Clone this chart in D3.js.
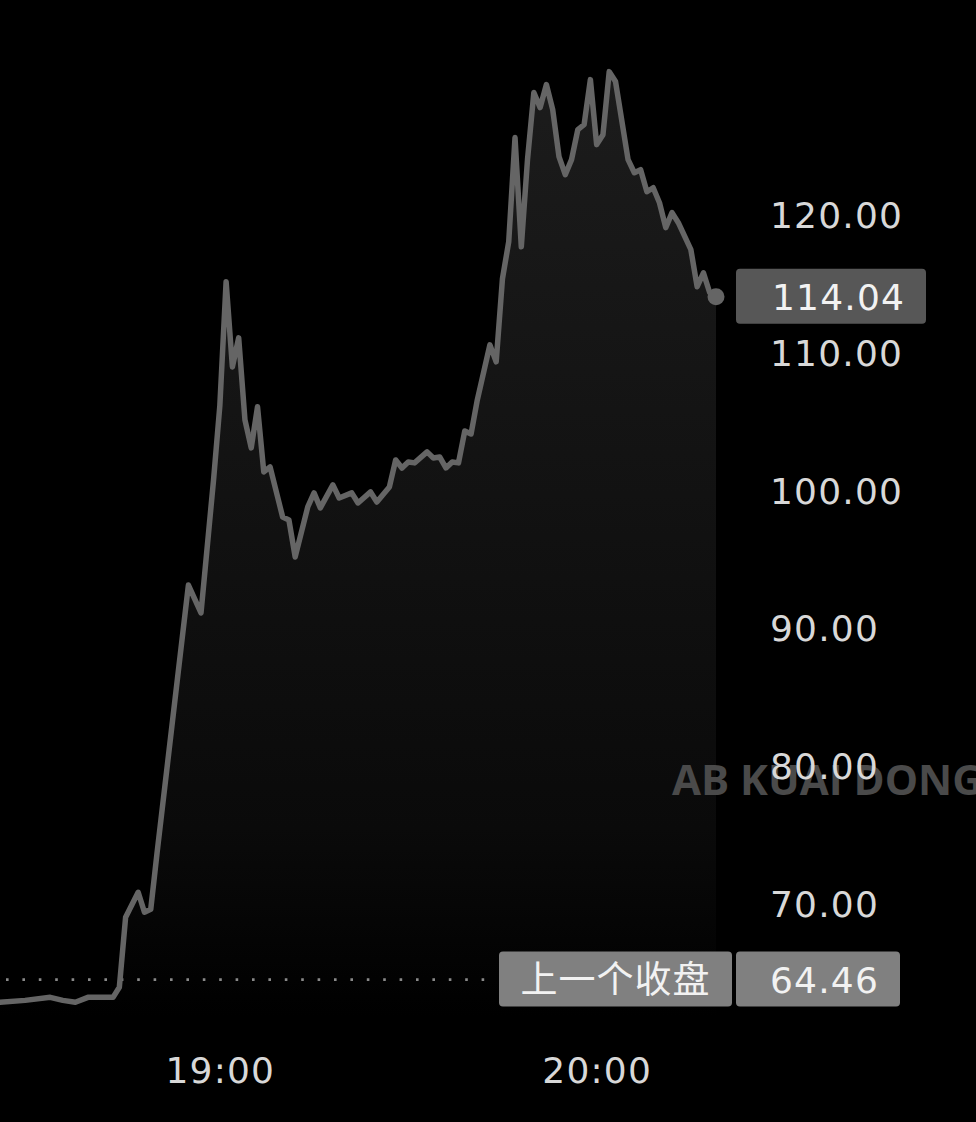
<!DOCTYPE html>
<html>
<head>
<meta charset="utf-8">
<script src="https://cdn.jsdelivr.net/npm/d3@7"></script>
<style>
  html, body { margin: 0; padding: 0; background: #000; }
  svg { display: block; }
  .axis-g text { font-family: "DejaVu Sans", sans-serif; font-size: 36px; fill: #d8d8d8; letter-spacing: 1.2px; }
  .tag-text { font-family: "DejaVu Sans", sans-serif; font-size: 36px; fill: #f2f2f2; letter-spacing: 1.2px; }
  .tag-cjk { font-family: "Noto Sans CJK SC", sans-serif; font-size: 37px; fill: #f2f2f2; letter-spacing: 1px; }
  .watermark { font-family: "Open Sans", sans-serif; font-weight: 700; font-size: 42px; fill: #4a4a4a; }
</style>
</head>
<body>
<div id="chart"></div>
<script>
// minute prices
const times = [
  "18:25", "18:29", "18:33", "18:35", "18:37", "18:39", "18:43", "18:44",
  "18:45", "18:47", "18:48", "18:49", "18:50", "18:55", "18:57", "18:59",
  "19:00", "19:01", "19:02", "19:03", "19:04", "19:05", "19:06", "19:07",
  "19:08", "19:10", "19:11", "19:12", "19:14", "19:15", "19:16", "19:18",
  "19:19", "19:21", "19:22", "19:24", "19:25", "19:27", "19:28", "19:29",
  "19:30", "19:31", "19:33", "19:34", "19:35", "19:36", "19:37", "19:38",
  "19:39", "19:40", "19:41", "19:43", "19:44", "19:45", "19:46", "19:47",
  "19:48", "19:49", "19:50", "19:51", "19:52", "19:53", "19:54", "19:55",
  "19:56", "19:57", "19:58", "19:59", "20:00", "20:01", "20:02", "20:03",
  "20:05", "20:06", "20:07", "20:08", "20:09", "20:10", "20:11", "20:12",
  "20:13", "20:15", "20:16", "20:17", "20:18", "20:19"
];
const prices = [
  62.81, 62.95, 63.17, 62.95, 62.81, 63.17, 63.17, 63.90,
  68.98, 70.80, 69.35, 69.56, 73.63, 93.11, 91.08, 100.74,
  106.12, 115.13, 108.95, 111.06, 105.10, 103.07, 106.05, 101.32,
  101.69, 98.05, 97.83, 95.15, 98.78, 99.80, 98.71, 100.38,
  99.43, 99.80, 99.07, 99.87, 99.14, 100.23, 102.19, 101.61,
  102.05, 101.98, 102.78, 102.34, 102.41, 101.61, 102.05, 101.98,
  104.30, 104.08, 106.56, 110.55, 109.32, 115.35, 118.04, 125.60,
  117.67, 124.07, 128.87, 127.78, 129.45, 127.63, 124.22, 122.91,
  124.00, 126.18, 126.54, 129.81, 125.09, 125.81, 130.39, 129.67,
  124.00, 123.05, 123.27, 121.67, 121.96, 120.87, 119.06, 120.15,
  119.42, 117.46, 114.77, 115.78, 114.33, 114.04
];
const yTicks = [70, 80, 90, 100, 110, 120];
const xTicks = ["19:00", "20:00"];
const previousClose = 64.46;
const previousCloseLabel = "上一个收盘";
const lastPrice = 114.04;
const watermarkText = "AB KUAI DONG";

class IntradayChart {
  constructor({ el }) {
    this.el = el;
    this.width = 976;
    this.height = 1122;
    this.setup();
    this.scaffold();
    this.render();
  }

  setup() {
    this.parseTime = d3.utcParse("%H:%M");
    this.formatXTick = d3.utcFormat("%H:%M");
    this.formatY = d3.format(".2f");
    this.dates = times.map(this.parseTime);

    this.plotRight = 716;
    this.labelX = 770;

    this.x = d3.scaleUtc()
      .domain(d3.extent(this.dates))
      .range([0, this.plotRight]);
    this.y = d3.scaleLinear().domain([60, 130]).range([1041, 77]);

    this.line = d3.line()
      .x((_, i) => this.x(this.dates[i]))
      .y((d) => this.y(d));

    this.area = d3.area()
      .x((_, i) => this.x(this.dates[i]))
      .y0(() => this.y(61.8))
      .y1((d) => this.y(d));
  }

  scaffold() {
    this.svg = d3.select(this.el)
      .append("svg")
      .attr("width", this.width)
      .attr("height", this.height)
      .attr("viewBox", [0, 0, this.width, this.height]);

    this.svg.append("rect")
      .attr("width", this.width).attr("height", this.height).attr("fill", "#000");

    const grad = this.svg.append("defs").append("linearGradient")
      .attr("id", "area-grad")
      .attr("gradientUnits", "userSpaceOnUse")
      .attr("x1", 0).attr("x2", 0)
      .attr("y1", this.y(130)).attr("y2", this.y(61.8));
    grad.append("stop").attr("offset", 0).attr("stop-color", "#1c1c1c");
    grad.append("stop").attr("offset", 0.8).attr("stop-color", "#0a0a0a");
    grad.append("stop").attr("offset", 1).attr("stop-color", "#000");

    this.gArea = this.svg.append("g").attr("class", "area-g");
    this.gMark = this.svg.append("g").attr("class", "mark-g");
    this.gY = this.svg.append("g").attr("class", "axis-g axis-g--y");
    this.gX = this.svg.append("g").attr("class", "axis-g axis-g--x");
    this.gLine = this.svg.append("g").attr("class", "line-g");
    this.gTags = this.svg.append("g").attr("class", "tags-g");
  }

  render() {
    this.renderArea();
    this.renderWatermark();
    this.renderYAxis();
    this.renderXAxis();
    this.renderLine();
    this.renderTags();
  }

  renderArea() {
    this.gArea.append("path")
      .attr("d", this.area(prices))
      .attr("fill", "url(#area-grad)");
  }

  renderWatermark() {
    this.gMark.append("text")
      .attr("class", "watermark")
      .attr("x", 672)
      .attr("y", 795)
      .text(watermarkText);
  }

  renderYAxis() {
    this.gY
      .attr("transform", `translate(${this.labelX},0)`)
      .call(
        d3.axisRight(this.y)
          .tickValues(yTicks)
          .tickFormat(this.formatY)
          .tickSize(0)
          .tickPadding(0)
      )
      .call((g) => g.select(".domain").remove())
      .call((g) => g.selectAll("text").attr("dy", "0.36em"));
  }

  renderXAxis() {
    this.gX
      .attr("transform", `translate(0,1057)`)
      .call(
        d3.axisBottom(this.x)
          .tickValues(xTicks.map(this.parseTime))
          .tickFormat(this.formatXTick)
          .tickSize(0)
          .tickPadding(0)
      )
      .call((g) => g.select(".domain").remove());
  }

  renderLine() {
    const yClose = this.y(previousClose);
    this.gLine.append("line")
      .attr("x1", 6).attr("x2", 492)
      .attr("y1", yClose).attr("y2", yClose)
      .attr("stroke", "#8a8a8a")
      .attr("stroke-width", 2.6)
      .attr("stroke-dasharray", "2.6 13.8");

    this.gLine.append("path")
      .attr("d", this.line(prices))
      .attr("fill", "none")
      .attr("stroke", "#656565")
      .attr("stroke-width", 5.5)
      .attr("stroke-linejoin", "round")
      .attr("stroke-linecap", "round");

    const n = prices.length - 1;
    this.gLine.append("circle")
      .attr("cx", this.x(this.dates[n]))
      .attr("cy", this.y(prices[n]))
      .attr("r", 8.5)
      .attr("fill", "#656565");
  }

  renderTags() {
    const h = 55;
    // last price tag
    const yLast = this.y(lastPrice);
    this.gTags.append("rect")
      .attr("x", 736).attr("y", yLast - h / 2 - 0.5)
      .attr("width", 190).attr("height", h)
      .attr("rx", 4)
      .attr("fill", "#575757");
    this.gTags.append("text")
      .attr("class", "tag-text")
      .attr("x", this.labelX + 2).attr("y", yLast)
      .attr("dy", "0.36em")
      .text(this.formatY(lastPrice));

    // previous close tags
    const yClose = this.y(previousClose);
    this.gTags.append("rect")
      .attr("x", 499).attr("y", yClose - h / 2 - 0.5)
      .attr("width", 233).attr("height", h)
      .attr("rx", 4)
      .attr("fill", "#808080");
    this.gTags.append("text")
      .attr("class", "tag-cjk")
      .attr("x", 615.5).attr("y", yClose)
      .attr("dy", "0.36em")
      .attr("text-anchor", "middle")
      .text(previousCloseLabel);
    this.gTags.append("rect")
      .attr("x", 736).attr("y", yClose - h / 2 - 0.5)
      .attr("width", 164).attr("height", h)
      .attr("rx", 4)
      .attr("fill", "#808080");
    this.gTags.append("text")
      .attr("class", "tag-text")
      .attr("x", this.labelX).attr("y", yClose)
      .attr("dy", "0.36em")
      .text(this.formatY(previousClose));
  }
}

new IntradayChart({ el: document.getElementById("chart") });
</script>
</body>
</html>
